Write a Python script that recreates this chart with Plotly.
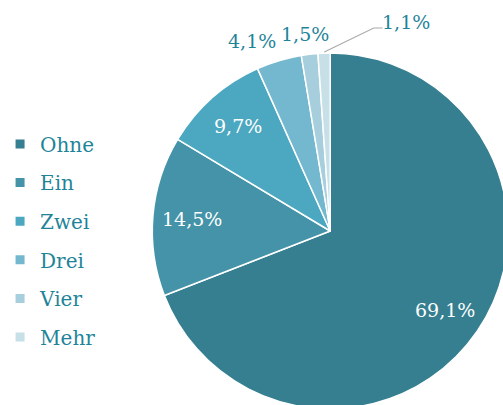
import numpy as np
import plotly.graph_objects as go

# data
categories = ['Ohne', 'Ein', 'Zwei', 'Drei', 'Vier', 'Mehr']
shares = [69.1, 14.5, 9.7, 4.1, 1.5, 1.1]
colors = ['#357f91', '#4493a8', '#4ba8c0', '#74b8cf', '#a6cedc', '#c7dfe7']
inside = [True, True, True, False, False, False]

teal = '#1f8499'
font_family = 'DejaVu Serif, Liberation Serif, serif'

# page size (a bit larger than the window so the pie runs off the edges)
W, H = 520, 412
cx, cy, R = 328, 231, 180

fig = go.Figure()

fig.add_trace(go.Pie(
    labels=categories,
    values=shares,
    sort=False,
    direction='clockwise',
    rotation=0,
    marker=dict(colors=colors, line=dict(color='white', width=1.5)),
    textinfo='none',
    showlegend=False,
    hoverinfo='label+value',
    domain=dict(x=[(cx - R) / W, (cx + R) / W], y=[1 - (cy + R) / H, 1 - (cy - R) / H]),
))

# labels inside the big slices, placed at the slice midpoints
total = sum(shares)
cum = np.cumsum([0] + shares[:-1])
for s, c0, ins in zip(shares, cum, inside):
    if not ins:
        continue
    ang = np.radians((c0 + s / 2) / total * 360)
    px = cx + 0.78 * R * np.sin(ang)
    py = cy - 0.78 * R * np.cos(ang)
    fig.add_annotation(
        x=px / W, y=1 - py / H, xref='paper', yref='paper',
        xanchor='center', yanchor='middle',
        text=f'{s:.1f}%'.replace('.', ','), showarrow=False,
        font=dict(color='white', size=19, family=font_family),
    )

# small slices labelled outside, as in the original
outside_pos = {'Drei': (249, 41), 'Vier': (302, 34), 'Mehr': (405, 22)}
for cat, s in zip(categories, shares):
    if cat in outside_pos:
        px, py = outside_pos[cat]
        fig.add_annotation(
            x=px / W, y=1 - py / H, xref='paper', yref='paper',
            xanchor='center', yanchor='middle',
            text=f'{s:.1f}%'.replace('.', ','), showarrow=False,
            font=dict(color=teal, size=19, family=font_family),
        )

# leader line for "Mehr"
lx = [322, 372, 381]
ly = [52, 28, 28]
path = 'M ' + ' L '.join(f'{x / W},{1 - y / H}' for x, y in zip(lx, ly))
fig.add_shape(type='path', path=path, xref='paper', yref='paper',
              line=dict(color='#aaaaaa', width=1.2))

# legend entries as dummy traces so spacing and swatch size can be set
for cat, col in zip(categories, colors):
    fig.add_trace(go.Scatter(
        x=[None], y=[None], mode='markers', name=cat, legendgroup=cat,
        marker=dict(symbol='square', size=9, color=col),
    ))

fig.update_layout(
    width=W,
    height=H,
    font=dict(family=font_family, color=teal),
    paper_bgcolor='white',
    plot_bgcolor='white',
    margin=dict(l=0, r=0, t=0, b=0),
    xaxis=dict(visible=False),
    yaxis=dict(visible=False),
    showlegend=True,
    legend=dict(
        x=-6 / W, y=1 - 240.5 / H, xanchor='left', yanchor='middle',
        font=dict(size=20, color=teal, family=font_family),
        traceorder='grouped', tracegroupgap=9.6,
        itemwidth=30,
        bgcolor='rgba(0,0,0,0)',
    ),
)

fig.write_html('out.html', config={'displayModeBar': False},
               post_script="document.body.style.margin='0';document.body.style.overflow='hidden';")
